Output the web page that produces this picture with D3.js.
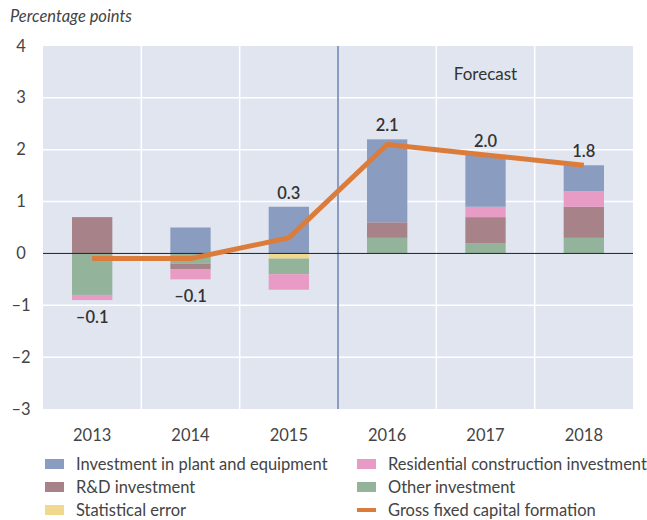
<!DOCTYPE html>
<html><head><meta charset="utf-8">
<script src="https://cdn.jsdelivr.net/npm/d3@7"></script>
<style>body{margin:0;background:#fff;} svg{display:block;font-family:Lato,"Open Sans",sans-serif;}</style>
</head><body><svg id="c" width="647" height="520"></svg>
<script>
const years = ["2013","2014","2015","2016","2017","2018"];
const plant = [0, 0.5, 0.9, 1.6, 1.0, 0.5];
const rd = [0.7, -0.1, 0, 0.3, 0.5, 0.6];
const resid = [-0.1, -0.2, -0.3, 0, 0.2, 0.3];
const other = [-0.8, -0.2, -0.3, 0.3, 0.2, 0.3];
const staterr = [0, 0, -0.1, 0, 0, 0];
const gfcf = [-0.1, -0.1, 0.3, 2.1, 1.9, 1.7];
const gfcfLabels = ["–0.1","–0.1","0.3","2.1","2.0","1.8"];
const yTicks = [4,3,2,1,0,-1,-2,-3];
const seriesNames = ["Statistical error","Other investment","R&D investment","Residential construction investment","Investment in plant and equipment"];
const seriesColors = ["#f0d98c","#93b39a","#a78389","#e89bc4","#8a9dc0"];
const lineName = "Gross fixed capital formation";
const lineColor = "#dc7c3a";
const forecastLabel = "Forecast";
const yTitle = "Percentage points";

const svg = d3.select("#c");
const L=43, R=633, T=46, B=409;
const x = d3.scaleBand().domain(years).range([L,R]).paddingInner(0.59).paddingOuter(0.295);
const xb = d3.scaleBand().domain(years).range([L,R]);
const y = d3.scaleLinear().domain([-3,4]).range([B,T]);

svg.append("rect").attr("x",L).attr("y",T).attr("width",R-L).attr("height",B-T).attr("fill","#e0e5f0");
// horizontal gridlines
svg.append("g").selectAll("line").data(yTicks.filter(d=>d!==4 && d!==-3 && d!==0)).join("line")
  .attr("x1",L).attr("x2",R).attr("y1",d=>y(d)).attr("y2",d=>y(d)).attr("stroke","#fff").attr("stroke-width",1.5);
// vertical gridlines
svg.append("g").selectAll("line").data(years.slice(1)).join("line")
  .attr("x1",d=>xb(d)).attr("x2",d=>xb(d)).attr("y1",T).attr("y2",B)
  .attr("stroke",d=>d==="2016"?"#8a9dc0":"#fff").attr("stroke-width",d=>d==="2016"?2:1.5);

// stacked bars
const rows = years.map((yr,i)=>({year:yr, s0:staterr[i], s1:other[i], s2:rd[i], s3:resid[i], s4:plant[i]}));
const keys = ["s0","s1","s2","s3","s4"];
const stack = d3.stack().keys(keys).offset(d3.stackOffsetDiverging)(rows);
svg.append("g").selectAll("g").data(stack).join("g").attr("fill",(d,i)=>seriesColors[i])
  .selectAll("rect").data(d=>d.filter(p=>p[1]!==p[0])).join("rect")
  .attr("x",d=>x(d.data.year)).attr("width",x.bandwidth())
  .attr("y",d=>y(Math.max(d[0],d[1]))).attr("height",d=>Math.abs(y(d[0])-y(d[1])));

// zero line
svg.append("line").attr("x1",L).attr("x2",R).attr("y1",y(0)).attr("y2",y(0)).attr("stroke","#222").attr("stroke-width",1);

// line
const cx = d=>x(d)+x.bandwidth()/2;
svg.append("path").datum(gfcf).attr("fill","none").attr("stroke",lineColor).attr("stroke-width",5)
  .attr("stroke-linejoin","round")
  .attr("d",d3.line().x((d,i)=>cx(years[i])).y(d=>y(d)));

// value labels
const posSum = years.map((yr,i)=>d3.sum([plant[i],rd[i],resid[i],other[i],staterr[i]].filter(v=>v>0)));
const negSum = years.map((yr,i)=>d3.sum([plant[i],rd[i],resid[i],other[i],staterr[i]].filter(v=>v<0)));
svg.append("g").selectAll("text").data(gfcf).join("text")
  .attr("x",(d,i)=>cx(years[i])).attr("y",(d,i)=>d>0? y(posSum[i])-8 : y(negSum[i])+23)
  .attr("text-anchor","middle").attr("font-size",16.5).attr("font-weight",600).attr("fill","#333")
  .text((d,i)=>gfcfLabels[i]);

// forecast label
svg.append("text").attr("x",cx("2017")).attr("y",80).attr("text-anchor","middle").attr("font-size",17).attr("fill","#333").text(forecastLabel);

// y axis labels
svg.append("g").selectAll("text").data(yTicks).join("text")
  .attr("x",21).attr("y",d=>y(d)+5.5).attr("text-anchor","middle").attr("font-size",16.5).attr("fill","#444")
  .text(d=>d<0?"–"+Math.abs(d):d);
// title
svg.append("text").attr("x",10).attr("y",22).attr("font-size",16.5).attr("font-style","italic").attr("fill","#444").text(yTitle);
// x labels
svg.append("g").selectAll("text").data(years).join("text")
  .attr("x",d=>cx(d)).attr("y",441).attr("text-anchor","middle").attr("font-size",16.5).attr("fill","#444").text(d=>d);

// legend
const legend = [
  {name:seriesNames[4], color:seriesColors[4], col:0,row:0},
  {name:seriesNames[2], color:seriesColors[2], col:0,row:1},
  {name:seriesNames[0], color:seriesColors[0], col:0,row:2},
  {name:seriesNames[3], color:seriesColors[3], col:1,row:0},
  {name:seriesNames[1], color:seriesColors[1], col:1,row:1},
  {name:lineName, color:lineColor, col:1,row:2, line:true}
];
const lg = svg.append("g").selectAll("g").data(legend).join("g")
  .attr("transform",d=>`translate(${d.col?357:45},${464+d.row*23})`);
lg.append("rect").attr("x",0).attr("width",19).attr("y",d=>d.line?-2:-5).attr("height",d=>d.line?4:10).attr("fill",d=>d.color);
lg.append("text").attr("x",d=>d.col?31:31).attr("y",6).attr("font-size",16.5).attr("fill","#444").text(d=>d.name);
</script></body></html>
